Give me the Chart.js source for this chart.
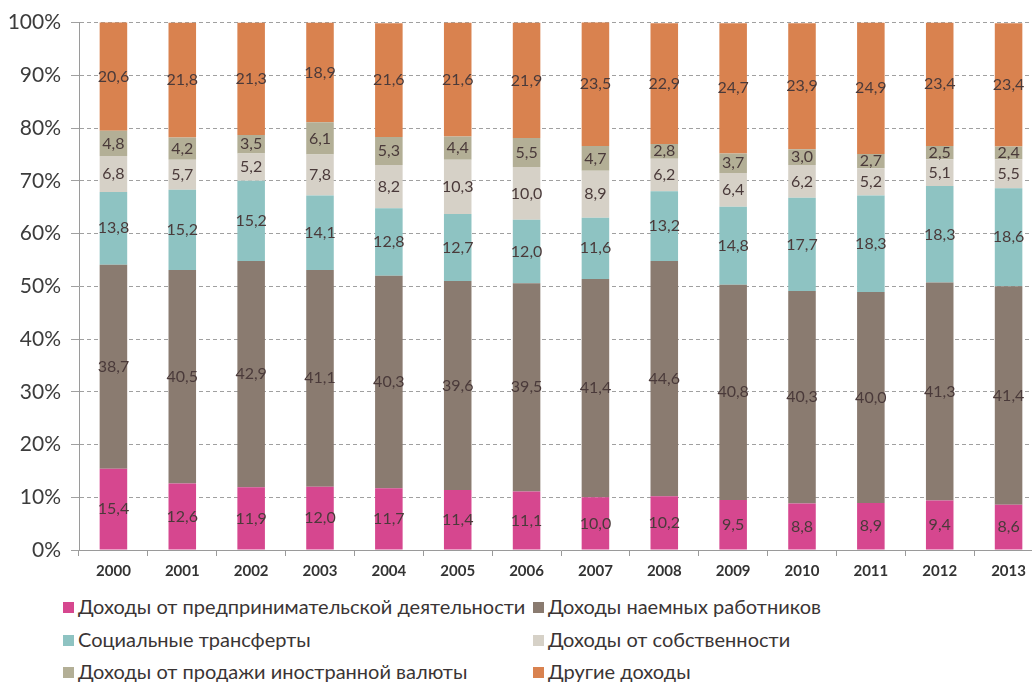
<!DOCTYPE html>
<html>
<head>
<meta charset="utf-8">
<script src="https://cdn.jsdelivr.net/npm/chart.js@4"></script>
<style>
  body { margin: 0; background: #fff; overflow: hidden; width: 1032px; height: 682px; }
  #wrap { position: absolute; left: 0; top: 0; width: 1050px; height: 590px; }
  #legend { position: absolute; left: 63px; top: 594px; width: 960px; font-family: Lato, "Noto Sans", sans-serif; font-size: 20px; color: #3a3434; }
  #legend .item { position: absolute; white-space: nowrap; }
  #legend .box { display: inline-block; width: 11px; height: 11px; margin-right: 4px; vertical-align: 1px; }
</style>
</head>
<body>
<div id="wrap"><canvas id="income-chart" width="1050" height="590"></canvas></div>
<div id="legend"></div>
<script>
/**
 * Структура денежных доходов населения, %
 */

const years = ['2000', '2001', '2002', '2003', '2004', '2005', '2006', '2007', '2008', '2009', '2010', '2011', '2012', '2013'];

const business = [15.4, 12.6, 11.9, 12.0, 11.7, 11.4, 11.1, 10.0, 10.2, 9.5, 8.8, 8.9, 9.4, 8.6];
const wages = [38.7, 40.5, 42.9, 41.1, 40.3, 39.6, 39.5, 41.4, 44.6, 40.8, 40.3, 40.0, 41.3, 41.4];
const transfers = [13.8, 15.2, 15.2, 14.1, 12.8, 12.7, 12.0, 11.6, 13.2, 14.8, 17.7, 18.3, 18.3, 18.6];
const property = [6.8, 5.7, 5.2, 7.8, 8.2, 10.3, 10.0, 8.9, 6.2, 6.4, 6.2, 5.2, 5.1, 5.5];
const currency = [4.8, 4.2, 3.5, 6.1, 5.3, 4.4, 5.5, 4.7, 2.8, 3.7, 3.0, 2.7, 2.5, 2.4];
const other = [20.6, 21.8, 21.3, 18.9, 21.6, 21.6, 21.9, 23.5, 22.9, 24.7, 23.9, 24.9, 23.4, 23.4];

const yTicks = [0, 10, 20, 30, 40, 50, 60, 70, 80, 90, 100];

const seriesNames = [
    'Доходы от предпринимательской деятельности',
    'Доходы наемных работников',
    'Социальные трансферты',
    'Доходы от собственности',
    'Доходы от продажи иностранной валюты',
    'Другие доходы'
];
const seriesData = [business, wages, transfers, property, currency, other];
const seriesColors = ['#D6478F', '#8A7B70', '#8EC3C2', '#D6D1C7', '#B3AF96', '#D9824F'];

// подписи значений в середине каждого сегмента
const valueLabels = {
    id: 'valueLabels',
    afterDatasetsDraw(chart) {
        const ctx = chart.ctx;
        ctx.save();
        ctx.font = '16px Lato, "Noto Sans", sans-serif';
        ctx.fillStyle = '#4a3a3a';
        ctx.textAlign = 'center';
        ctx.textBaseline = 'middle';
        chart.data.datasets.forEach((ds, i) => {
            const meta = chart.getDatasetMeta(i);
            meta.data.forEach((bar, j) => {
                const txt = ds.data[j].toFixed(1).replace('.', ',');
                ctx.fillText(txt, bar.x, (bar.y + bar.base) / 2);
            });
        });
        ctx.restore();
    }
};

const ctx = document.getElementById('income-chart').getContext('2d');

const incomeChart = new Chart(ctx, {
    type: 'bar',
    data: {
        labels: years,
        datasets: seriesNames.map((name, i) => ({
            label: name,
            data: seriesData[i],
            backgroundColor: seriesColors[i],
            borderWidth: 0,
            barPercentage: 0.4,
            categoryPercentage: 1
        }))
    },
    options: {
        responsive: false,
        animation: false,
        layout: { padding: { top: 22, right: 7, left: 0, bottom: 0 } },
        plugins: {
            legend: { display: false },
            tooltip: { enabled: false }
        },
        scales: {
            x: {
                stacked: true,
                offset: true,
                afterFit(scale) { scale.height = 40; },
                grid: {
                    offset: true,
                    drawOnChartArea: false,
                    color: '#9a9a9a',
                    tickLength: 6
                },
                border: { color: '#9a9a9a', width: 1 },
                ticks: {
                    color: '#333',
                    maxRotation: 0,
                    autoSkip: false,
                    font: { family: 'Lato, "Noto Sans", sans-serif', size: 15, weight: 'bold' },
                    padding: 6
                }
            },
            y: {
                stacked: true,
                min: 0,
                max: 100,
                afterFit(scale) { scale.width = 79; },
                afterBuildTicks(scale) { scale.ticks = yTicks.map(v => ({ value: v })); },
                grid: {
                    color: '#a0a0a0',
                    tickLength: 8,
                    tickColor: '#a0a0a0'
                },
                border: { color: '#9a9a9a', width: 1, dash: [4, 3] },
                ticks: {
                    color: '#3c3c3c',
                    font: { family: 'Lato, "Noto Sans", sans-serif', size: 21 },
                    padding: 10,
                    callback: v => v + '%'
                }
            }
        }
    },
    plugins: [valueLabels]
});

// легенда в две колонки
const legend = document.getElementById('legend');
const legendPos = [[0, 0], [470, 0], [0, 33], [470, 33], [0, 65], [470, 65]];
seriesNames.forEach((name, i) => {
    const item = document.createElement('div');
    item.className = 'item';
    item.style.left = legendPos[i][0] + 'px';
    item.style.top = legendPos[i][1] + 'px';
    item.innerHTML = '<span class="box" style="background:' + seriesColors[i] + '"></span>' + name;
    legend.appendChild(item);
});
</script>
</body>
</html>
